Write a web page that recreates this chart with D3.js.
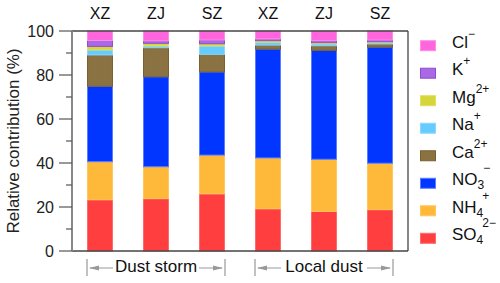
<!DOCTYPE html>
<html><head><meta charset="utf-8">
<script src="https://cdn.jsdelivr.net/npm/d3@7"></script>
<style>body{margin:0;background:#fff}svg{display:block;font-family:"Liberation Sans",Arial,sans-serif}</style>
</head><body><svg id="c" width="500" height="283"></svg>
<script>
const sites = ["XZ","ZJ","SZ","XZ","ZJ","SZ"];
const groups = ["Dust storm","Local dust"];
const species = ["SO4","NH4","NO3","Ca","Na","Mg","K","Cl"];
const SO4 = [23.3, 23.8, 26.0, 19.2, 18.0, 18.8];
const NH4 = [17.3, 14.5, 17.6, 23.1, 23.7, 21.1];
const NO3 = [34.3, 40.9, 37.8, 49.5, 49.5, 52.8];
const Ca  = [14.2, 13.2,  8.0,  1.8,  2.1,  1.4];
const Na  = [ 2.3,  0.8,  3.8,  1.3,  0.9,  0.6];
const Mg  = [ 1.6,  1.2,  1.0,  0.7,  0.5,  0.4];
const K   = [ 2.7,  1.1,  1.7,  0.8,  0.9,  0.8];
const Cl  = [ 4.3,  4.5,  4.1,  3.6,  4.4,  4.1];
const yTicks = [0,20,40,60,80,100];
const colors = {SO4:"#ff3f3f",NH4:"#ffb93a",NO3:"#0036ff",Ca:"#8a7242",Na:"#66ccff",Mg:"#d6d63a",K:"#a968e6",Cl:"#ff66dd"};
const strokes = {SO4:"#ff6b6b",NH4:"#ffc75a",NO3:"#5a7dff",Ca:"#7a6030",Na:"#8ad8ff",Mg:"#e0e060",K:"#8e4ed0",Cl:"#ff8ce6"};
const labels = {SO4:["SO","4","2−"],NH4:["NH","4","+"],NO3:["NO","3","−"],Ca:["Ca","","2+"],Na:["Na","","+"],Mg:["Mg","","2+"],K:["K","","+"],Cl:["Cl","","−"]};
const vals = {SO4,NH4,NO3,Ca,Na,Mg,K,Cl};

const svg = d3.select("#c");
const m = {l:72, r:408, t:31, b:251};
const x = d3.scaleBand().domain(d3.range(sites.length)).range([m.l,m.r]).paddingInner(0.536).paddingOuter(0.268);
const y = d3.scaleLinear().domain([0,100]).range([m.b,m.t]);

const rows = sites.map((s,i)=>{const o={i}; species.forEach(k=>o[k]=vals[k][i]); return o;});
const stack = d3.stack().keys(species)(rows);

svg.append("g").selectAll("g").data(stack).join("g")
  .attr("fill", d=>colors[d.key]).attr("stroke", d=>strokes[d.key]).attr("stroke-width",1)
  .selectAll("rect").data(d=>d).join("rect")
  .attr("x", d=>x(d.data.i)+0.5).attr("width", x.bandwidth()-1)
  .attr("y", d=>y(d[1])).attr("height", d=>Math.max(0,y(d[0])-y(d[1])));

// frame
svg.append("line").attr("x1",m.l).attr("x2",m.r).attr("y1",m.t).attr("y2",m.t).attr("stroke","#444").attr("stroke-width",1.3);
svg.append("line").attr("x1",m.r).attr("x2",m.r).attr("y1",m.t).attr("y2",m.b).attr("stroke","#444").attr("stroke-width",1.3);
svg.append("line").attr("x1",m.l).attr("x2",m.r).attr("y1",m.b).attr("y2",m.b).attr("stroke","#444").attr("stroke-width",1.3);
// y axis
const ya = svg.append("g").attr("transform",`translate(${m.l},0)`);
ya.append("line").attr("y1",m.t).attr("y2",m.b).attr("stroke","#888").attr("stroke-width",2);
ya.selectAll(".mj").data(yTicks).join("line").attr("x1",-13).attr("x2",0).attr("y1",d=>y(d)).attr("y2",d=>y(d)).attr("stroke","#555").attr("stroke-width",1.2);
ya.selectAll(".mn").data(d3.range(10,100,20)).join("line").attr("x1",-6).attr("x2",0).attr("y1",d=>y(d)).attr("y2",d=>y(d)).attr("stroke","#555").attr("stroke-width",1.2);
ya.selectAll("text").data(yTicks).join("text").attr("x",-18).attr("y",d=>y(d)).attr("dy","0.36em").attr("text-anchor","end").attr("font-size",16).attr("fill","#222").text(d=>d);
svg.append("text").attr("transform",`translate(19,${(m.t+m.b)/2}) rotate(-90)`).attr("text-anchor","middle").attr("font-size",17).attr("fill","#222").text("Relative contribution (%)");

// top labels
svg.selectAll(".site").data(sites).join("text").attr("x",(d,i)=>x(i)+x.bandwidth()/2).attr("y",19).attr("text-anchor","middle").attr("font-size",16).attr("fill","#111").text(d=>d);

// group annotations
const gy = 266;
groups.forEach((g,gi)=>{
  const x0 = x(gi*3), x1 = x(gi*3+2)+x.bandwidth();
  const cx = (x0+x1)/2;
  const G = svg.append("g").attr("stroke","#999").attr("fill","#999");
  G.append("line").attr("x1",x0).attr("x2",x0).attr("y1",gy-7).attr("y2",gy+10).attr("stroke-width",1.2);
  G.append("line").attr("x1",x1).attr("x2",x1).attr("y1",gy-7).attr("y2",gy+10).attr("stroke-width",1.2);
  G.append("line").attr("x1",x0+3).attr("x2",cx-43).attr("y1",gy+2).attr("y2",gy+2).attr("stroke-width",1);
  G.append("line").attr("x1",cx+43).attr("x2",x1-3).attr("y1",gy+2).attr("y2",gy+2).attr("stroke-width",1);
  G.append("path").attr("stroke","none").attr("d",`M${x0+2},${gy+2}L${x0+12},${gy-0.5}L${x0+12},${gy+4.5}Z`);
  G.append("path").attr("stroke","none").attr("d",`M${x1-2},${gy+2}L${x1-12},${gy-0.5}L${x1-12},${gy+4.5}Z`);
  svg.append("text").attr("x",cx).attr("y",gy+6).attr("text-anchor","middle").attr("font-size",17).attr("fill","#111").text(g);
});

// legend
const legOrder = species.slice().reverse();
const ly = d3.scalePoint().domain(legOrder).range([45.7,238.3]);
const L = svg.append("g");
legOrder.forEach(k=>{
  const cy = ly(k);
  L.append("rect").attr("x",420.5).attr("y",cy-5).attr("width",15).attr("height",10).attr("fill",colors[k]).attr("stroke",strokes[k]);
  const [base,sub,sup] = labels[k];
  const t = L.append("text").attr("x",452).attr("y",cy+2).attr("font-size",17).attr("fill","#111");
  t.append("tspan").text(base);
  if(sub){
    t.append("tspan").attr("font-size",12).attr("dy",4).text(sub);
    t.append("tspan").attr("font-size",12).attr("dx",-1).attr("dy",-17).text(sup);
  } else {
    t.append("tspan").attr("font-size",12).attr("dy",-10).text(sup);
  }
});
</script></body></html>
